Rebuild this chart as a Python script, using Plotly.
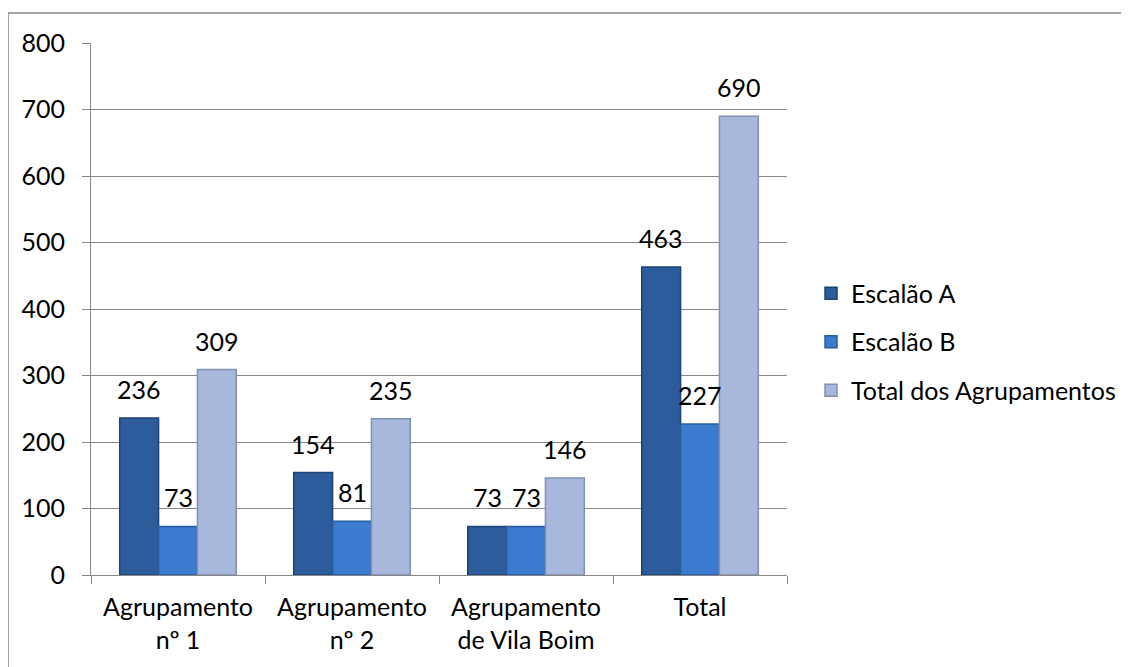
import plotly.graph_objects as go

categories = ["Agrupamento<br>nº 1", "Agrupamento<br>nº 2", "Agrupamento<br>de Vila Boim", "Total"]
escalao_a = [236, 154, 73, 463]
escalao_b = [73, 81, 73, 227]
total_agrup = [309, 235, 146, 690]

series = [
    ("Escalão A", escalao_a, "#2d5c9c", "#1e4274"),
    ("Escalão B", escalao_b, "#3b7bcf", "#2a5c9c"),
    ("Total dos Agrupamentos", total_agrup, "#a8b8dc", "#8090b4"),
]

font = "Lato, Open Sans, sans-serif"
grey = "#878787"

# plot area in px (figure coordinates)
L, R, T, B = 83, 350, 35, 100
W, H = 1129, 667
plot_w = W - L - R
bargap = 0.33
bar_w = plot_w / len(categories) * (1 - bargap) / len(series)

fig = go.Figure()
for i, (name, vals, col, edge) in enumerate(series):
    fig.add_trace(go.Bar(
        x=categories, y=vals, name=name,
        marker=dict(color=col, line=dict(color=edge, width=1.5)),
        legendgroup=str(i),
    ))
    # data labels, sitting a bit above each bar like the original
    for c, v in zip(categories, vals):
        fig.add_annotation(x=c, y=v, text=str(v), showarrow=False,
                           xshift=(i - 1) * bar_w, yshift=12, yanchor="bottom",
                           font=dict(size=25, color="black", family=font))

fig.update_layout(
    width=W, height=H,
    margin=dict(l=L, r=R, t=T, b=B),
    paper_bgcolor="white", plot_bgcolor="white",
    barmode="group", bargap=bargap, bargroupgap=0,
    font=dict(family=font, size=25, color="black"),
    legend=dict(x=1.0345, y=0.438, xanchor="left", yanchor="middle",
                font=dict(size=25), tracegroupgap=13),
    showlegend=True,
)
fig.update_yaxes(range=[0, 800], dtick=100, showgrid=True, gridcolor=grey,
                 gridwidth=1, ticks="outside", ticklen=8, tickcolor=grey,
                 showline=True, linecolor=grey, zeroline=False,
                 ticklabelstandoff=12, tickfont=dict(size=25))
fig.update_xaxes(showline=True, linecolor=grey, ticks="outside",
                 tickson="boundaries", ticklen=8, tickcolor=grey,
                 ticklabelstandoff=10, tickfont=dict(size=25), showgrid=False)

# outer chart frame
fig.add_shape(type="rect", xref="paper", yref="paper",
              x0=-L / plot_w, x1=1.8, y0=-0.3, y1=(H - B - 5) / (H - T - B),
              line=dict(color=grey, width=1.5), layer="below")

fig.write_html("out.html")
